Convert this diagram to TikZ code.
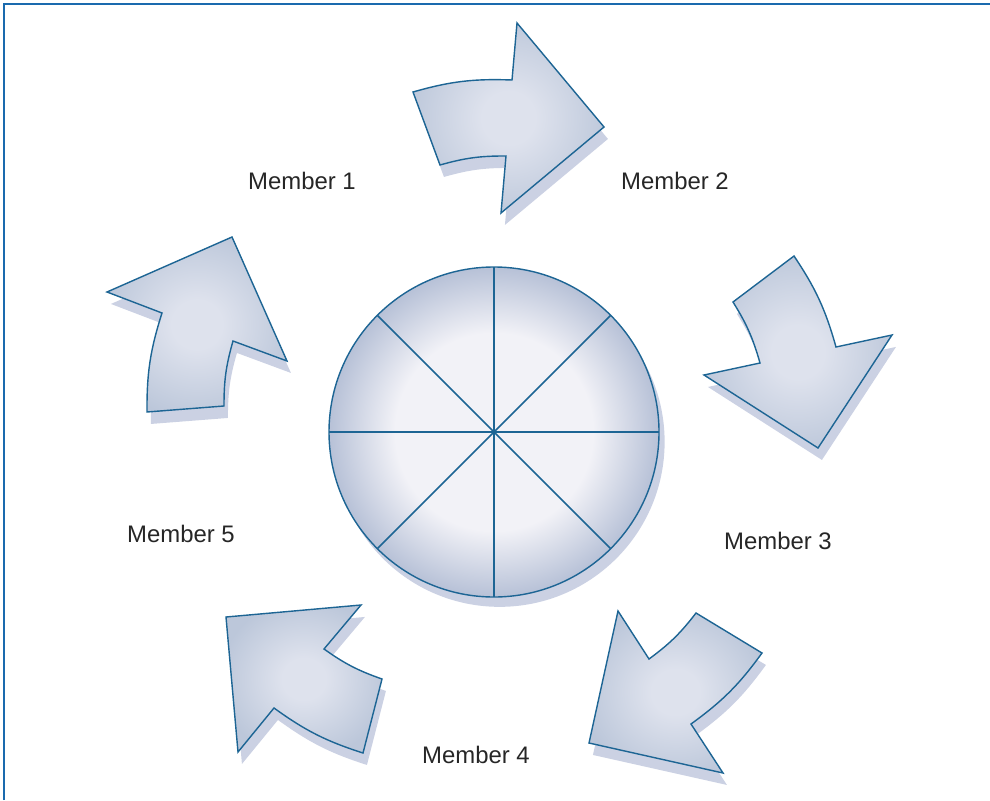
\documentclass[tikz,border=0pt]{standalone}
\usepackage{fontspec}
\setmainfont{Liberation Sans}
\usepackage{tikz}
\usetikzlibrary{shadows}
\usepackage{xcolor}
\definecolor{edgeblue}{HTML}{1D6594}
\definecolor{framec}{HTML}{1A6AAE}
\definecolor{arrowin}{HTML}{DEE2ED}
\definecolor{arrowout}{HTML}{BCC7DA}
\definecolor{discin}{HTML}{F2F2F7}
\definecolor{discout}{HTML}{B7C1D7}
\definecolor{shadowc}{HTML}{CBD1E3}
\pgfdeclareradialshading{arrowshade}{\pgfpoint{0bp}{0bp}}{color(0bp)=(arrowin); color(7bp)=(arrowin); color(27bp)=(arrowout); color(50bp)=(arrowout)}
\pgfdeclareradialshading{discshade}{\pgfpoint{0bp}{0bp}}{color(0bp)=(discin); color(15bp)=(discin); color(25bp)=(discout); color(50bp)=(discout)}
\tikzset{
  turnarrow/.style ={draw=edgeblue, line width=1pt, line join=miter, shading=arrowshade,
                     drop shadow={shadow xshift=2.8pt, shadow yshift=-8.5pt, fill=shadowc, opacity=1}},
  disc/.style      ={draw=edgeblue, line width=1pt, shading=discshade,
                     drop shadow={shadow xshift=4pt, shadow yshift=-7pt, fill=shadowc, opacity=1}},
  spoke/.style     ={draw=edgeblue, line width=1.15pt},
  frameln/.style   ={draw=framec, line width=1.2pt},
  member/.style    ={font=\fontsize{17}{20}\selectfont, text=black!85, inner sep=0pt},
}
\begin{document}
\begin{tikzpicture}[x=0.025cm, y=0.025cm]
  \useasboundingbox (0,0) rectangle (990,-800);
  \draw[frameln] (4,-800) -- (4,-4) -- (990,-4);

  % centre disc
  \coordinate (cen) at (494,-432);
  \path[disc] (cen) circle (165);
  \foreach \a in {0,45,...,315}
    \draw[spoke] (cen) -- ++(\a:165);

  % curved arrows, clockwise
  \path[turnarrow] (413,-92) to[bend left=9] (512,-80) -- (517,-23) -- (604,-127)
    -- (501,-213) -- (506,-156) to[bend right=8] (440,-165) -- cycle;
  \path[turnarrow] (733,-302) -- (794,-256) to[bend left=9] (836,-347) -- (892,-335)
    -- (818,-448) -- (704,-375) -- (760,-363) to[bend right=8] (733,-302) -- cycle;
  \path[turnarrow] (696,-613) -- (762,-653) to[bend left=9] (691,-724) -- (723,-773)
    -- (589,-743) -- (618,-611) -- (649,-659) to[bend right=8] (696,-613) -- cycle;
  \path[turnarrow] (382,-679) -- (363,-753) to[bend left=9] (274,-708) -- (238,-752)
    -- (226,-617) -- (361,-605) -- (324,-649) to[bend right=8] (382,-679) -- cycle;
  \path[turnarrow] (147,-412) to[bend left=9] (162,-313) -- (107,-292) -- (232,-237)
    -- (287,-361) -- (233,-341) to[bend right=8] (224,-406) -- cycle;

  % labels
  \node[member] (m1) at (302,-181) {Member 1};
  \node[member] (m2) at (675,-181) {Member 2};
  \node[member] (m3) at (778,-541) {Member 3};
  \node[member] (m4) at (476,-755) {Member 4};
  \node[member] (m5) at (181,-534) {Member 5};
\end{tikzpicture}
\end{document}
